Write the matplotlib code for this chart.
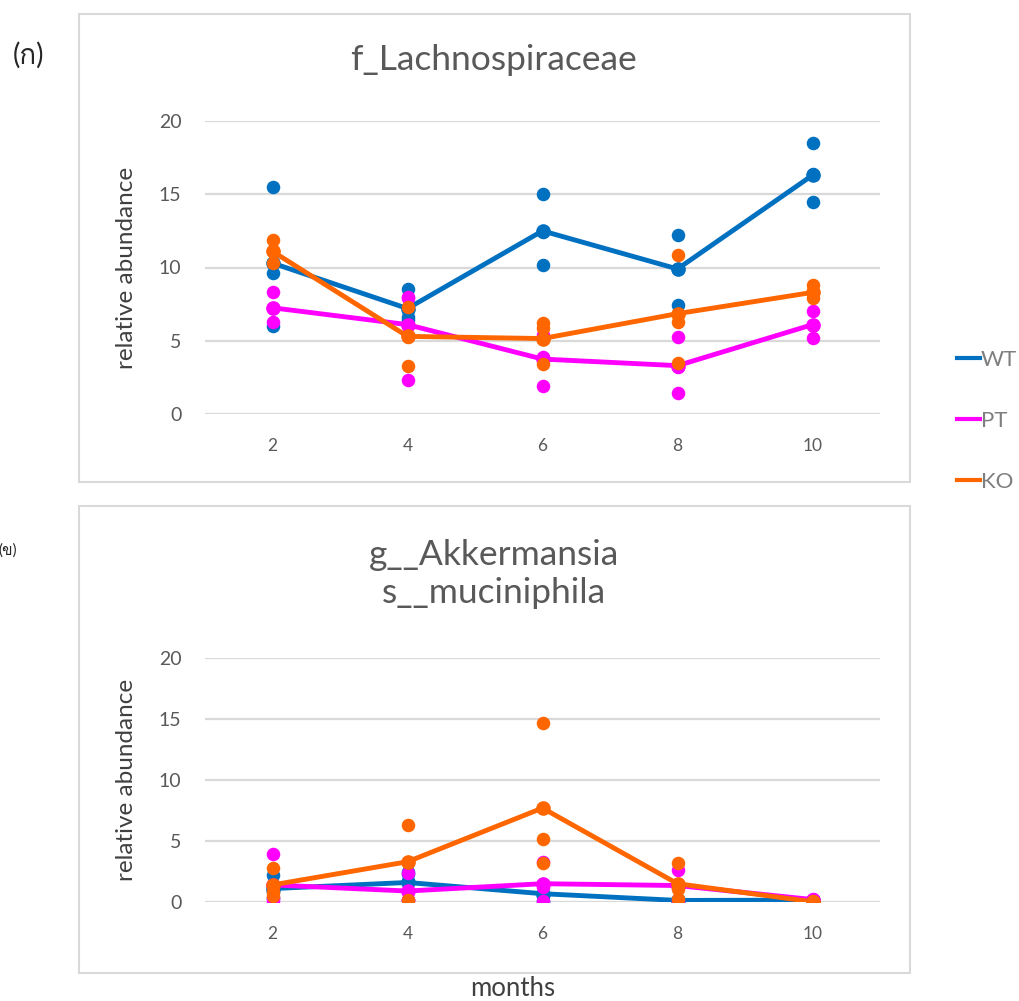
import numpy as np
import matplotlib
matplotlib.use("Agg")
import matplotlib.pyplot as plt
from matplotlib import font_manager
from matplotlib.ft2font import FT2Font
from matplotlib.patches import Rectangle
from matplotlib.lines import Line2D

# ---------------- data ----------------
months = [2, 4, 6, 8, 10]
groups = ["WT", "PT", "KO"]
colors = {"WT": "#0070C0", "PT": "#FF00FF", "KO": "#FF6600"}

# Panel (ก): f_Lachnospiraceae  -- individual samples per month
lach_WT_pts = [[15.5, 9.6, 6.0], [8.5, 6.6, 6.4], [15.0, 12.4, 10.2], [12.25, 9.9, 7.45], [18.5, 16.4, 14.5]]
lach_PT_pts = [[8.3, 7.25, 6.25], [8.0, 7.9, 2.35], [5.4, 3.9, 1.9], [5.25, 3.2, 1.45], [7.05, 6.1, 5.2]]
lach_KO_pts = [[11.9, 11.1, 10.3], [7.3, 5.25, 3.3], [6.2, 5.85, 3.4], [10.85, 6.3, 3.45], [8.8, 8.25, 7.9]]
lach_WT_mean = [10.3, 7.2, 12.5, 9.9, 16.3]
lach_PT_mean = [7.25, 6.1, 3.75, 3.3, 6.1]
lach_KO_mean = [11.1, 5.3, 5.15, 6.85, 8.3]

# Panel (ข): g__Akkermansia s__muciniphila
akk_WT_pts = [[2.2, 0.8, 0.3], [2.45, 2.3, 0.2], [1.5, 0.5, 0.1], [0.2, 0.1, 0.1], [0.2, 0.15, 0.1]]
akk_PT_pts = [[3.9, 0.3, 0.1], [2.4, 0.2, 0.15], [3.3, 1.2, 0.05], [2.6, 1.4, 0.1], [0.25, 0.2, 0.15]]
akk_KO_pts = [[2.8, 0.8, 0.5], [6.35, 3.3, 0.2], [14.7, 5.2, 3.2], [3.2, 1.1, 0.25], [0.05, 0.0, 0.0]]
akk_WT_mean = [1.1, 1.6, 0.68, 0.13, 0.15]
akk_PT_mean = [1.4, 0.9, 1.5, 1.35, 0.2]
akk_KO_mean = [1.4, 3.3, 7.7, 1.5, 0.02]

yticks = [0, 5, 10, 15, 20]
title_top = "f_Lachnospiraceae"
title_bot = "g__Akkermansia\ns__muciniphila"
ylabel = "relative abundance"
xlabel = "months"
panel_labels = ["(ก)", "(ข)"]

# ---------------- fonts ----------------
def find_font_with(ch):
    for fe in font_manager.fontManager.ttflist:
        try:
            f = FT2Font(fe.fname)
            if ord(ch) in f.get_charmap():
                return fe.name
        except Exception:
            continue
    return None

thai_font = find_font_with("ก")
base = "Lato"
plt.rcParams["font.family"] = [base, "DejaVu Sans"]
thai_family = [base] + ([thai_font] if thai_font else []) + ["DejaVu Sans"]

GRAY = "#595959"
GRID = "#D9D9D9"

fig = plt.figure(figsize=(10.2, 10.01), dpi=100)
W, H = 1020, 1001

def fx(px):
    return px / W

def fy(py):
    return 1 - py / H

# panel boxes
for (x0, y0, x1, y1) in [(79, 14, 910, 482), (79, 506, 910, 973)]:
    fig.add_artist(Rectangle((fx(x0), fy(y1)), fx(x1) - fx(x0), fy(y0) - fy(y1),
                             transform=fig.transFigure, fill=False,
                             edgecolor=GRID, lw=1.5))

def make_axes(top_px, bot_px):
    ax = fig.add_axes([fx(205), fy(bot_px), fx(880) - fx(205), fy(top_px) - fy(bot_px)])
    ax.set_xlim(1, 11)
    ax.set_ylim(0, 20)
    ax.set_yticks(yticks)
    ax.set_xticks(months)
    ax.set_xticklabels([str(m) for m in months])
    for s in ax.spines.values():
        s.set_visible(False)
    ax.grid(axis="y", color=GRID, lw=1.6)
    ax.set_axisbelow(True)
    ax.tick_params(axis="both", length=0, colors=GRAY, labelsize=14)
    ax.tick_params(axis="y", pad=17)
    ax.tick_params(axis="x", pad=17, labelsize=12.5)
    ax.set_ylabel(ylabel, fontsize=17.5, color="#404040", labelpad=16)
    ax.patch.set_alpha(0)
    return ax

def draw(ax, pts, means):
    for g in groups:
        c = colors[g]
        ax.plot(months, means[g], color=c, lw=3.5, marker="o", ms=9.5,
                solid_capstyle="round", zorder=3)
        xs = []
        ys = []
        for m, vals in zip(months, pts[g]):
            xs += [m] * len(vals)
            ys += vals
        ax.scatter(xs, ys, s=95, color=c, linewidths=0, zorder=3)

ax1 = make_axes(121, 414)
draw(ax1, {"WT": lach_WT_pts, "PT": lach_PT_pts, "KO": lach_KO_pts},
     {"WT": lach_WT_mean, "PT": lach_PT_mean, "KO": lach_KO_mean})
ax2 = make_axes(658, 902)
draw(ax2, {"WT": akk_WT_pts, "PT": akk_PT_pts, "KO": akk_KO_pts},
     {"WT": akk_WT_mean, "PT": akk_PT_mean, "KO": akk_KO_mean})

fig.text(fx(494), fy(60), title_top, ha="center", va="center", fontsize=25.5, color=GRAY)
fig.text(fx(494), fy(574), title_bot, ha="center", va="center", fontsize=25.5,
         color=GRAY, linespacing=1.25)
fig.text(fx(513), fy(989), xlabel, ha="center", va="center", fontsize=18.5, color="#404040")
fig.text(fx(29), fy(55), panel_labels[0], ha="center", va="center", fontsize=20,
         color="#262626", family=thai_family)
fig.text(fx(8), fy(551), panel_labels[1], ha="center", va="center", fontsize=11,
         color="#262626", family=thai_family)

handles = [Line2D([], [], color=colors[g], lw=3) for g in groups]
fig.legend(handles, groups, loc="center left", bbox_to_anchor=(fx(937), fy(421)),
           frameon=False, handlelength=1.05, handletextpad=0.02, labelspacing=1.85,
           fontsize=16, labelcolor="#7F7F7F")

fig.savefig("out.png", dpi=100)
